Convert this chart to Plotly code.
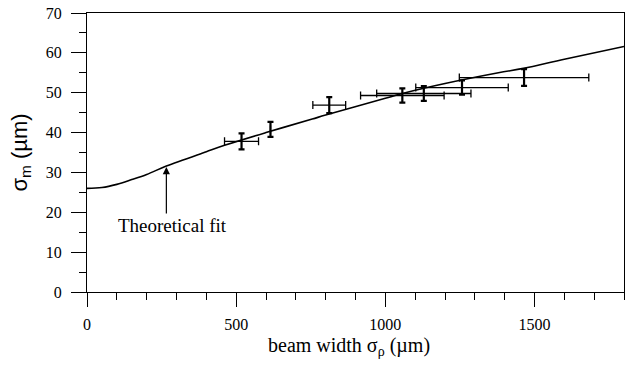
import plotly.graph_objects as go

# Measured data
beam_width = [518, 615, 812, 1057, 1129, 1257, 1465]
sigma_m = [37.8, 40.8, 46.9, 49.3, 49.8, 51.3, 53.8]
beam_width_err = [57, 0, 55, 140, 158, 155, 217]
sigma_m_err = [2.0, 1.9, 2.0, 1.8, 1.85, 1.8, 2.1]

# Theoretical fit curve
fit_x = [0, 50, 100, 150, 200, 266, 400, 461, 600, 755, 800, 1000, 1057, 1200, 1379, 1463, 1600, 1800]
fit_y = [26.0, 26.2, 27.0, 28.2, 29.5, 31.6, 35.2, 36.8, 40.0, 43.4, 44.4, 48.6, 49.8, 52.3, 55.0, 56.1, 58.4, 61.6]

x_ticks = [0, 500, 1000, 1500]
y_ticks = [0, 10, 20, 30, 40, 50, 60, 70]

SERIF = "Liberation Serif"

fig = go.Figure()

fig.add_trace(go.Scatter(
    x=fit_x, y=fit_y, mode="lines",
    line=dict(color="black", width=1.6, shape="spline", smoothing=1.0),
    showlegend=False, hoverinfo="skip",
))

fig.add_trace(go.Scatter(
    x=beam_width, y=sigma_m, mode="markers",
    marker=dict(size=1, color="black", opacity=0),
    error_x=dict(type="data", array=beam_width_err, color="black", thickness=1.3, width=4),
    error_y=dict(type="data", array=sigma_m_err, color="black", thickness=2.2, width=3),
    showlegend=False,
))

# arrow (no text)
fig.add_annotation(
    x=266, y=31.6, xref="x", yref="y", text="", showarrow=True,
    arrowhead=2, arrowsize=1.2, arrowwidth=1.2, arrowcolor="black",
    ax=0, ay=49, standoff=1,
)
fig.add_annotation(
    x=287, y=16.8, xref="x", yref="y", text="Theoretical fit", showarrow=False,
    font=dict(family=SERIF, size=19, color="black"),
)
# x-axis title
fig.add_annotation(
    x=0.487, y=-0.196, xref="paper", yref="paper", xanchor="center", yanchor="middle",
    text="beam width σ<sub>ρ</sub> (µm)", showarrow=False,
    font=dict(family=SERIF, size=20, color="black"),
)

fig.update_layout(
    width=625, height=367,
    margin=dict(l=87, r=1, t=13, b=75),
    paper_bgcolor="white", plot_bgcolor="white",
    font=dict(family=SERIF, color="black"),
)

fig.update_xaxes(
    range=[0, 1800], showgrid=False, zeroline=False, automargin=True,
    showline=True, linecolor="black", linewidth=1, mirror=True,
    ticks="outside", ticklen=14, tickwidth=1, tickcolor="black",
    tickvals=x_ticks, ticktext=[str(v) for v in x_ticks],
    tickfont=dict(family=SERIF, size=16, color="black"),
    ticklabelstandoff=4,
    minor=dict(dtick=100, ticks="outside", ticklen=7, tickwidth=1, tickcolor="black", showgrid=False),
)
fig.update_yaxes(
    range=[0, 70], showgrid=False, zeroline=False, automargin=True,
    showline=True, linecolor="black", linewidth=1, mirror=True,
    ticks="outside", ticklen=15, tickwidth=1, tickcolor="black",
    tickvals=y_ticks, ticktext=[str(v) for v in y_ticks],
    tickfont=dict(family=SERIF, size=16, color="black"),
    ticklabelstandoff=6,
    minor=dict(dtick=5, ticks="outside", ticklen=7, tickwidth=1, tickcolor="black", showgrid=False),
    title=dict(text="σ<sub>m</sub> (µm)", font=dict(family="Liberation Sans", size=22, color="black"), standoff=12),
)

fig.write_html(
    "out.html",
    config={"displayModeBar": False},
    post_script="document.body.style.margin='0';document.body.style.overflow='hidden';",
)
